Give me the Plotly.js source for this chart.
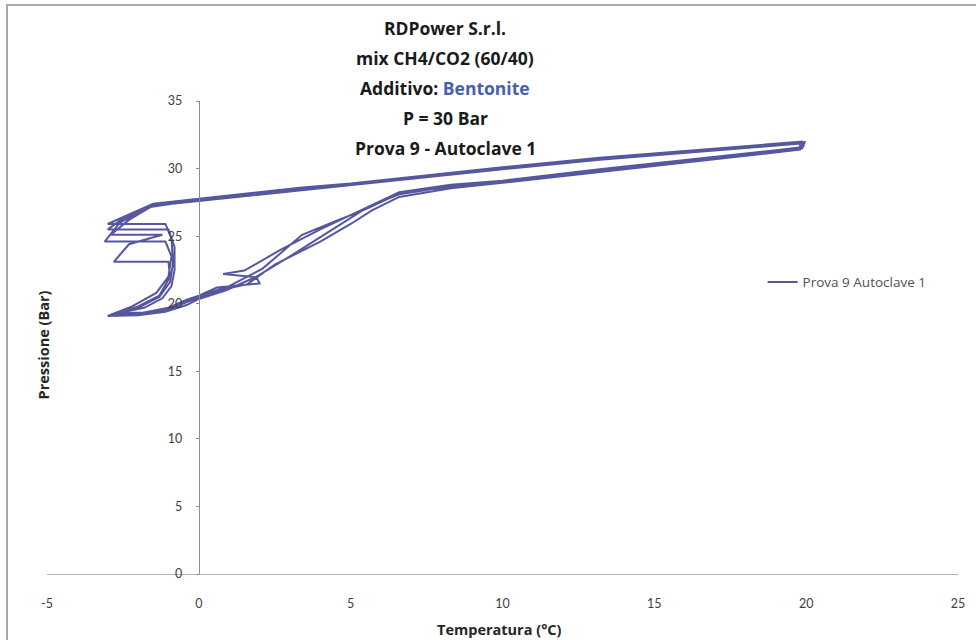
<!DOCTYPE html>
<html>
<head>
<meta charset="utf-8">
<script src="https://cdn.plot.ly/plotly-3.0.1.min.js"></script>
<style>
  html, body { margin: 0; padding: 0; background: #fff; }
  #chart { width: 976px; height: 640px; }
  #frame {
    position: absolute; left: 6px; top: 4px; right: 0; bottom: 0;
    border-left: 2px solid #a8a8a8; border-top: 2px solid #a8a8a8;
    pointer-events: none;
  }
</style>
</head>
<body>
<div id="chart"></div>
<div id="frame"></div>
<script>
// Pressure / temperature log, four cooling–heating cycles (°C, bar)
const temperatura = [
  // cycle 1
  19.9, 16.5, 13.2, 10.0, 8.3, 5.0, 3.4, 0.0, -1.5,
  -2.3, -3.0, -1.1, -0.9, -0.85, -0.95, -1.3, -2.0, -2.9,
  -2.0, -1.2, -0.5, 0.0, 0.7, 1.6, 2.5, 4.0, 5.0, 5.7, 6.6, 8.3, 10.0, 13.2, 16.5, 19.8,
  // cycle 2
  19.9, 16.5, 13.2, 10.0, 8.3, 5.0, 3.4, 0.0, -1.6,
  -2.5, -3.0, -1.0, -0.8, -0.8, -0.9, -1.2, -1.8, -2.7,
  -1.8, -1.0, -0.4, 0.0, 0.6, 2.0, 1.9, 0.8, 1.5, 2.7, 4.0, 5.5, 6.6, 8.3, 10.0, 13.2, 16.5, 19.8,
  // cycle 3
  19.8, 16.5, 13.2, 10.0, 8.3, 5.0, 3.4, 0.0, -1.5,
  -2.6, -3.1, -1.1, -0.9, -1.0, -1.4, -2.2, -3.0,
  -2.0, -1.1, -0.4, 0.0, 0.9, 1.9, 3.0, 4.0, 5.0, 5.6, 6.6, 8.3, 10.0, 13.2, 16.5, 19.9,
  // cycle 4
  19.95, 16.5, 13.2, 10.0, 8.3, 5.0, 3.4, 0.0, -1.6,
  -2.3, -2.9, -1.2, -2.3, -2.8, -1.0, -0.95, -1.3, -2.0, -2.8,
  -2.0, -1.0, -0.3, 0.2, 1.0, 2.1, 3.4, 4.5, 5.5, 6.6, 8.3, 10.0, 13.2, 16.5, 19.9
];
const pressione = [
  // cycle 1
  32.0, 31.4, 30.8, 30.1, 29.7, 28.9, 28.6, 27.8, 27.4,
  26.6, 25.9, 25.9, 24.8, 23.0, 21.6, 20.5, 19.7, 19.2,
  19.25, 19.5, 20.1, 20.5, 21.0, 21.45, 22.9, 24.6, 25.9, 26.9, 27.9, 28.55, 28.95, 29.75, 30.55, 31.4,
  // cycle 2
  31.9, 31.3, 30.7, 30.0, 29.6, 28.8, 28.45, 27.65, 27.2,
  26.3, 25.5, 25.5, 24.2, 22.5, 21.3, 20.4, 19.7, 19.3,
  19.35, 19.7, 20.3, 20.6, 21.2, 21.5, 21.95, 22.2, 22.45, 24.0, 25.5, 27.1, 28.25, 28.8, 29.1, 29.95, 30.75, 31.55,
  // cycle 3
  31.85, 31.25, 30.65, 29.95, 29.55, 28.75, 28.4, 27.6, 27.25,
  26.0, 24.6, 24.6, 23.5, 22.0, 20.8, 19.8, 19.1,
  19.15, 19.4, 19.9, 20.35, 21.0, 22.0, 23.5, 24.9, 26.3, 27.2, 28.1, 28.7, 29.05, 29.85, 30.65, 31.6,
  // cycle 4
  31.95, 31.35, 30.75, 30.05, 29.65, 28.85, 28.5, 27.7, 27.15,
  26.2, 25.1, 25.1, 24.4, 23.1, 23.1, 22.0, 20.6, 19.8, 19.25,
  19.3, 19.6, 20.2, 20.7, 21.3, 22.6, 25.1, 26.1, 27.0, 28.15, 28.65, 29.0, 29.8, 30.6, 31.5
];

const serieNome = 'Prova 9 Autoclave 1';
const xTickVals = [-5, 0, 5, 10, 15, 20, 25];
const xTickText = ['-5', '0', '5', '10', '15', '20', '25'];
const yTickVals = [0, 5, 10, 15, 20, 25, 30, 35];
const yTickText = ['0', '5', '10', '15', '20', '25', '30', '35'];
const titoloRighe = [
  'RDPower S.r.l.',
  'mix CH4/CO2 (60/40)',
  'Additivo: <span style="color:#4560ad">Bentonite</span>',
  'P = 30 Bar',
  'Prova 9 - Autoclave 1'
];
const xTitolo = 'Temperatura (°C)';
const yTitolo = 'Pressione (Bar)';

const FONT_T = '"Open Sans", Lato, "Liberation Sans", sans-serif';
const FONT = 'Lato, "Open Sans", "Liberation Sans", sans-serif';

const trace = {
  x: temperatura,
  y: pressione,
  type: 'scatter',
  mode: 'lines',
  name: serieNome,
  line: { color: '#55579f', width: 2 }
};

// Title block: one annotation per line, evenly spaced
const titleY = [1.1543, 1.0909, 1.0275, 0.9641, 0.9006];
const annotations = titoloRighe.map((t, i) => ({
  text: t, xref: 'paper', yref: 'paper', x: 0.437, y: titleY[i],
  xanchor: 'center', yanchor: 'middle', showarrow: false,
  font: { family: FONT_T, size: 17.5, color: '#1a1a1a', weight: 'bold' }
}));
annotations.push({
  text: '<b>' + xTitolo + '</b>', xref: 'paper', yref: 'paper', x: 0.497, y: -0.118,
  xanchor: 'center', yanchor: 'middle', showarrow: false,
  font: { family: FONT_T, size: 14.5, color: '#262626' }
});
annotations.push({
  text: '<b>' + yTitolo + '</b>', xref: 'paper', yref: 'paper', x: -0.004, y: 0.484,
  xanchor: 'center', yanchor: 'middle', showarrow: false, textangle: -90,
  font: { family: FONT_T, size: 14.5, color: '#262626' }
});

const layout = {
  width: 976, height: 640,
  margin: { l: 47, r: 18, t: 101, b: 66 },
  paper_bgcolor: '#ffffff', plot_bgcolor: '#ffffff',
  font: { family: FONT, size: 12, color: '#404040' },
  showlegend: true,
  legend: {
    x: 0.7855, y: 0.617, xanchor: 'left', yanchor: 'middle',
    bgcolor: 'rgba(0,0,0,0)', font: { family: FONT_T, size: 13.5, color: '#505050' }
  },
  xaxis: {
    range: [-5, 25], tickvals: xTickVals, ticktext: xTickText,
    showgrid: false, zeroline: false, showline: true, linecolor: '#b4b4b4', linewidth: 1,
    ticks: '', ticklabelstandoff: 18,
    tickfont: { family: FONT, size: 12.5, color: '#404040' }
  },
  yaxis: {
    range: [0, 35], tickvals: yTickVals, ticktext: yTickText,
    anchor: 'free', position: 1 / 6,
    showgrid: false, zeroline: false, showline: true, linecolor: '#8c8c8c', linewidth: 1,
    ticks: 'outside', ticklen: 3, tickcolor: '#8c8c8c', ticklabelstandoff: 11,
    tickfont: { family: FONT, size: 12.5, color: '#404040' }
  },
  annotations: annotations
};

Plotly.newPlot('chart', [trace], layout, { displayModeBar: false, staticPlot: true });
</script>
</body>
</html>
